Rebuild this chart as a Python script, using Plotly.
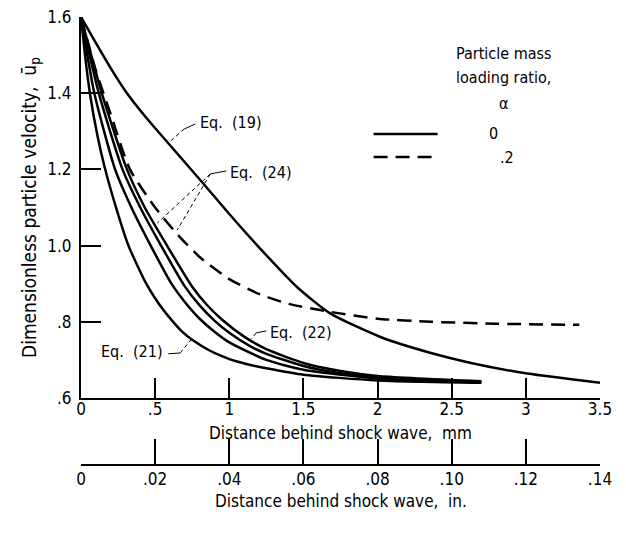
import plotly.graph_objects as go

# ---- data (distance in mm, dimensionless velocity) ----
x_eq19 = [0, 0.10, 0.20, 0.31, 0.45, 0.59, 0.82, 1.00, 1.23, 1.46, 1.68, 2.02, 2.36, 2.63, 3.01, 3.50]
y_eq19 = [1.60, 1.532, 1.466, 1.40, 1.331, 1.268, 1.165, 1.083, 0.983, 0.89, 0.822, 0.76, 0.718, 0.692, 0.664, 0.64]

x_eq21 = [0, 0.03, 0.06, 0.11, 0.16, 0.24, 0.32, 0.44, 0.52, 0.61, 0.68, 0.75, 0.87, 0.95, 1.04, 1.15, 1.25, 1.5, 2.0, 2.7]
y_eq21 = [1.60, 1.49, 1.40, 1.29, 1.205, 1.095, 1.00, 0.90, 0.85, 0.805, 0.775, 0.753, 0.724, 0.71, 0.697, 0.686, 0.678, 0.661, 0.646, 0.64]

x_b = [0, 0.09, 0.23, 0.34, 0.47, 0.61, 0.70, 0.80, 0.90, 1.0, 1.25, 1.5, 2.0, 2.7]
y_b = [1.60, 1.40, 1.20, 1.10, 1.00, 0.90, 0.852, 0.808, 0.774, 0.746, 0.70, 0.674, 0.651, 0.642]

x_eq22 = [0, 0.12, 0.28, 0.40, 0.54, 0.70, 0.80, 0.90, 1.0, 1.14, 1.25, 1.5, 1.75, 2.0, 2.7]
y_eq22 = [1.60, 1.40, 1.20, 1.10, 1.00, 0.893, 0.843, 0.803, 0.771, 0.736, 0.716, 0.684, 0.665, 0.654, 0.643]

x_eq24 = [0, 0.14, 0.31, 0.43, 0.58, 0.75, 0.85, 0.95, 1.10, 1.25, 1.5, 1.75, 2.0, 2.7]
y_eq24 = [1.60, 1.40, 1.20, 1.10, 1.00, 0.892, 0.844, 0.806, 0.761, 0.728, 0.692, 0.671, 0.658, 0.644]

x_eq24_a02 = [0, 0.1, 0.2, 0.33, 0.5, 0.649, 0.8, 1.0, 1.2, 1.4, 1.68, 2.0, 2.36, 2.8, 3.36]
y_eq24_a02 = [1.60, 1.46, 1.345, 1.20, 1.10, 1.03, 0.97, 0.912, 0.873, 0.847, 0.826, 0.808, 0.80, 0.795, 0.792]

mm_ticks = [0, 0.5, 1, 1.5, 2, 2.5, 3, 3.5]
mm_labels = ["0", ".5", "1", "1.5", "2", "2.5", "3", "3.5"]
in_ticks = [0, 0.02, 0.04, 0.06, 0.08, 0.10, 0.12, 0.14]
in_labels = ["0", ".02", ".04", ".06", ".08", ".10", ".12", ".14"]
y_ticks = [0.6, 0.8, 1.0, 1.2, 1.4, 1.6]
y_labels = [".6", ".8", "1.0", "1.2", "1.4", "1.6"]

FONT = "Liberation Sans Narrow, DejaVu Sans Condensed, Arial Narrow, Liberation Sans, sans-serif"
BLACK = "black"

fig = go.Figure()
solid = dict(color=BLACK, width=2.5, shape="spline", smoothing=0.6)
for xs, ys in [(x_eq19, y_eq19), (x_eq21, y_eq21), (x_b, y_b), (x_eq22, y_eq22), (x_eq24, y_eq24)]:
    fig.add_trace(go.Scatter(x=xs, y=ys, mode="lines", line=solid, showlegend=False, hoverinfo="skip"))
fig.add_trace(go.Scatter(x=x_eq24_a02, y=y_eq24_a02, mode="lines",
                         line=dict(color=BLACK, width=2.5, dash="14px,8px", shape="spline", smoothing=0.6),
                         showlegend=False, hoverinfo="skip"))
# empty trace so that the inch axis is created
fig.add_trace(go.Scatter(x=[in_ticks[0], in_ticks[-1]], y=[None, None], xaxis="x2", yaxis="y",
                         mode="lines", showlegend=False, hoverinfo="skip"))

axis_common = dict(tickwidth=2, tickcolor=BLACK, showline=True, linewidth=2, linecolor=BLACK,
                   showgrid=False, zeroline=False, automargin=False, tickfont=dict(size=17),
                   ticklabeloverflow="allow")

# page has an 8 px body margin: figure drawn 8 px right/down
fig.update_layout(
    width=618, height=539,
    margin=dict(l=73, r=26, t=9, b=82),
    paper_bgcolor="white", plot_bgcolor="white",
    font=dict(family=FONT, size=16, color=BLACK),
    xaxis=dict(range=[0, 3.5], tickvals=mm_ticks, ticktext=mm_labels, ticks="inside", ticklen=20,
               anchor="y", ticklabelstandoff=-5, **axis_common),
    yaxis=dict(range=[0.6, 1.6], domain=[0.1496, 1], tickvals=y_ticks, ticktext=y_labels,
               ticks="inside", ticklen=20, ticklabelstandoff=4, **axis_common),
    xaxis2=dict(range=[0, 0.14], tickvals=in_ticks, ticktext=in_labels, overlaying="x",
                anchor="free", position=0, side="bottom", ticks="inside", ticklen=25,
                ticklabelstandoff=-1, **axis_common),
)

ann = []
def text(x, y, s, xanchor="center", xref="x", yref="y", size=16, angle=0):
    ann.append(dict(x=x, y=y, xref=xref, yref=yref, text=s, showarrow=False,
                    xanchor=xanchor, yanchor="middle", textangle=angle,
                    font=dict(family=FONT, size=size, color=BLACK)))

# axis titles
text(0.5, (465 - 433) / 448, "Distance behind shock wave,  mm", xref="paper", yref="paper", size=17)
text(0.5, (465 - 501) / 448, "Distance behind shock wave,  in.", xref="paper", yref="paper", size=17)
text((30 - 81) / 519, (465 - 208) / 448, "Dimensionless particle velocity,  ū<sub>p</sub>",
     xref="paper", yref="paper", size=19, angle=-90)

# curve labels
text(0.79, 1.322, "Eq.  (19)", xanchor="left")
text(0.993, 1.193, "Eq.  (24)", xanchor="left")
text(1.264, 0.771, "Eq.  (22)", xanchor="left")
text(0.568, 0.721, "Eq.  (21)", xanchor="right")

# legend
text(2.851, 1.5055, "Particle mass")
text(2.851, 1.44, "loading ratio,")
text(2.851, 1.374, "α")
text(2.784, 1.293, "0")
text(2.87, 1.2325, ".2")
fig.update_layout(annotations=ann)

shapes = []
def seg(x0, y0, x1, y1, width=1, dash="4px,3px"):
    shapes.append(dict(type="line", x0=x0, y0=y0, x1=x1, y1=y1, xref="x", yref="y",
                       line=dict(color=BLACK, width=width, dash=dash)))

# leaders
seg(0.770, 1.319, 0.696, 1.306, dash="solid")
seg(0.696, 1.306, 0.588, 1.269)
seg(0.98, 1.196, 0.872, 1.188, dash="solid")
seg(0.872, 1.188, 0.649, 1.041)
seg(0.872, 1.188, 0.514, 1.059)
seg(1.25, 0.776, 1.182, 0.771, dash="solid")
seg(1.182, 0.771, 1.149, 0.755)
seg(0.588, 0.716, 0.669, 0.718, dash="solid")
seg(0.669, 0.718, 0.757, 0.76)
# legend samples
seg(1.973, 1.293, 2.405, 1.293, width=2.5, dash="solid")
seg(1.973, 1.2325, 2.372, 1.2325, width=2.5, dash="14px,8px")
fig.update_layout(shapes=shapes)

fig.write_html("out.html")
